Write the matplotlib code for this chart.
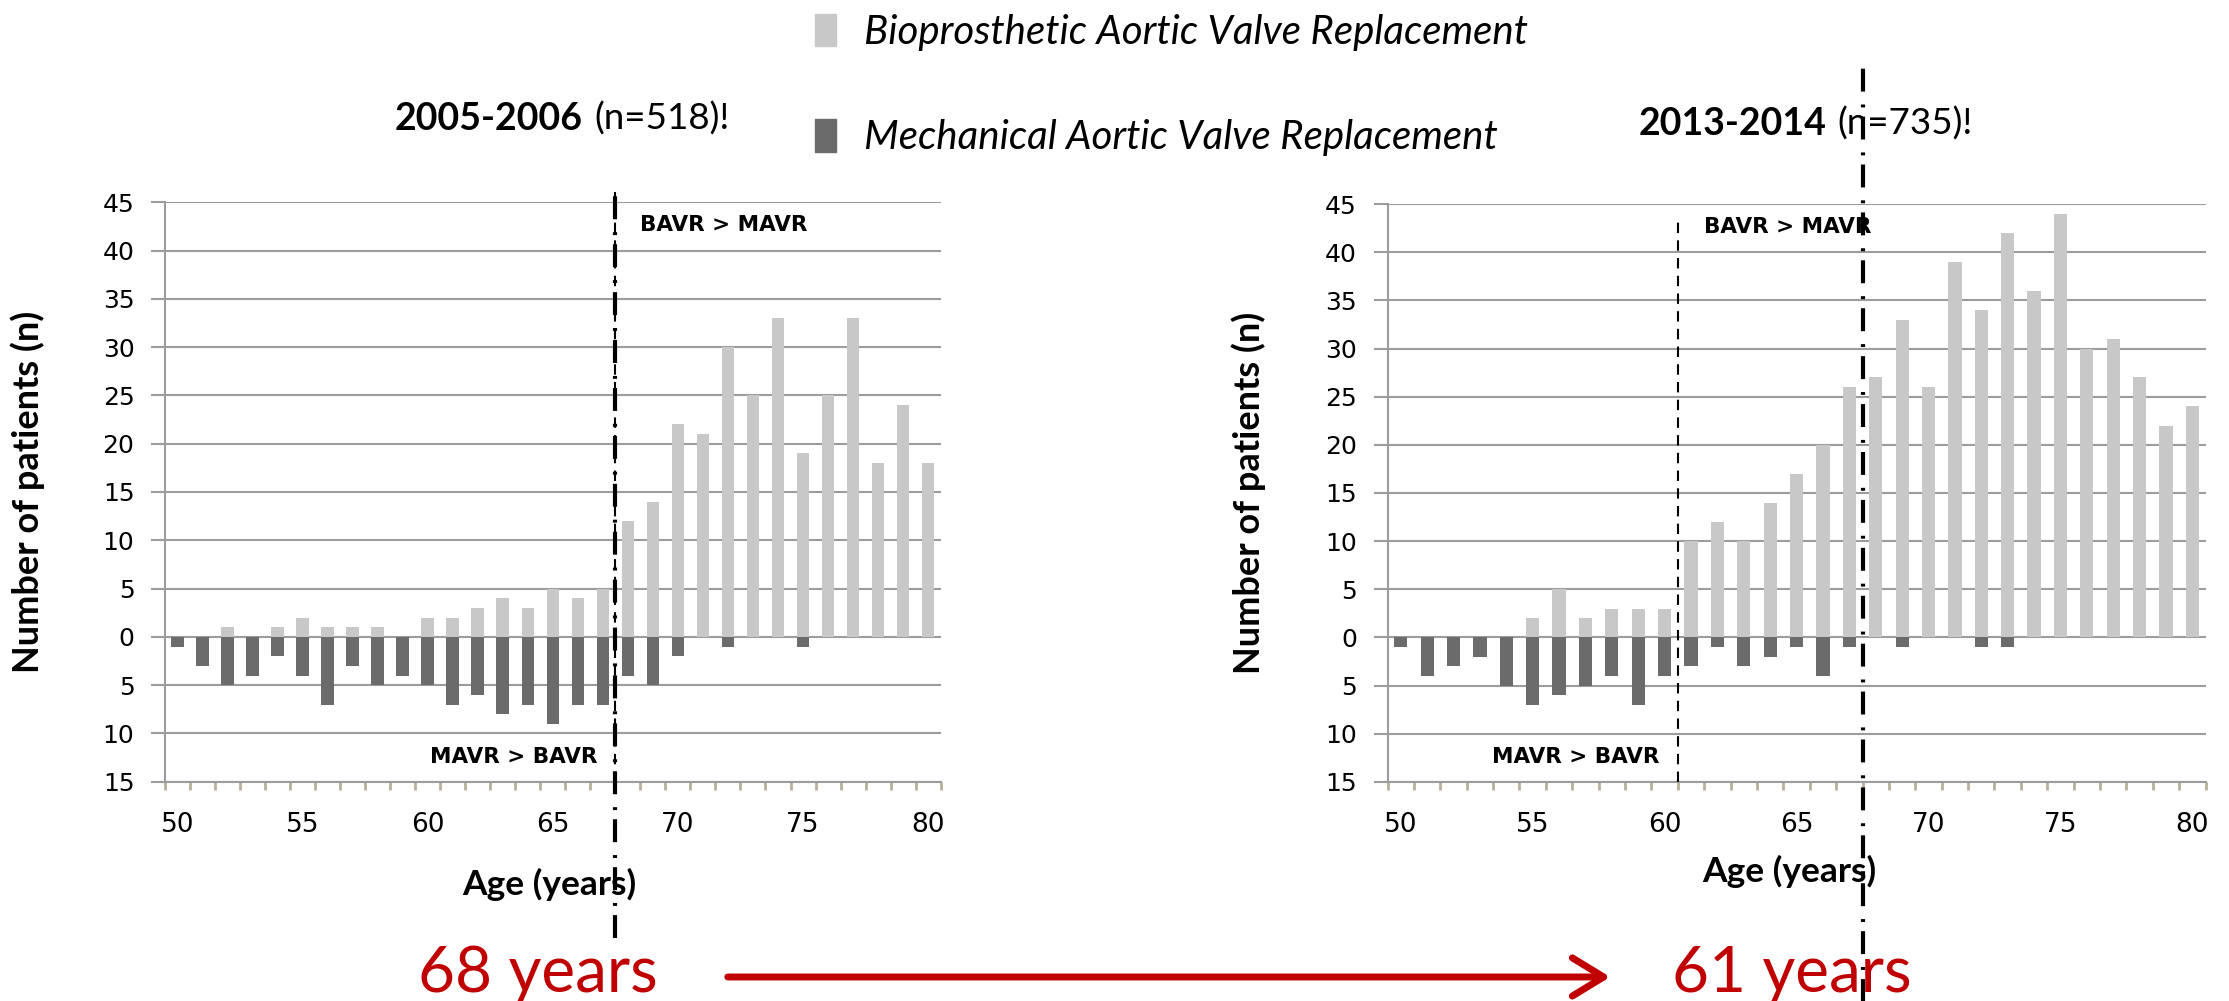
import matplotlib
matplotlib.use('Agg')
import matplotlib.pyplot as plt
import matplotlib.transforms as mtransforms
from matplotlib.patches import Patch, FancyArrowPatch
import numpy as np

# age categories (years)
ages = list(range(50, 81))

# 2005-2006 (n=518)
bio_0506 = [0, 0, 1, 0, 1, 2, 1, 1, 1, 0, 2, 2, 3, 4, 3, 5, 4, 5,
            12, 14, 22, 21, 30, 25, 33, 19, 25, 33, 18, 24, 18]
mech_0506 = [1, 3, 5, 4, 2, 4, 7, 3, 5, 4, 5, 7, 6, 8, 7, 9, 7, 7,
             4, 5, 2, 0, 1, 0, 0, 1, 0, 0, 0, 0, 0]

# 2013-2014 (n=735)
bio_1314 = [0, 0, 0, 0, 0, 2, 5, 2, 3, 3, 3, 10, 12, 10, 14, 17, 20, 26,
            27, 33, 26, 39, 34, 42, 36, 44, 30, 31, 27, 22, 24]
mech_1314 = [1, 4, 3, 2, 5, 7, 6, 5, 4, 7, 4, 3, 1, 3, 2, 1, 4, 1,
             0, 1, 0, 0, 1, 1, 0, 0, 0, 0, 0, 0, 0]

# age from which BAVR > MAVR
switch_0506 = 68
switch_1314 = 61

LIGHT = '#c8c8c8'
DARK = '#6b6b6b'
GRID = '#9c9c9c'
RED = '#c00000'
TXT = 'Lato'
W, H = 2229, 1001

fig = plt.figure(figsize=(22.29, 10.01), dpi=100)
ax1 = fig.add_axes([0.074, 0.219, 0.348, 0.579])
ax2 = fig.add_axes([0.6225, 0.219, 0.367, 0.577])


def draw_panel(ax, bio, mech):
    ax.bar(ages, bio, width=0.5, color=LIGHT, zorder=2)
    ax.bar(ages, [-m for m in mech], width=0.5, color=DARK, zorder=2)
    ax.set_xlim(49.5, 80.5)
    ax.set_ylim(-15, 45)
    yt = list(range(-15, 50, 5))
    ax.set_yticks(yt)
    ax.set_yticklabels([str(abs(v)) for v in yt])
    ax.set_xticks(range(50, 81, 5))
    ax.set_xticks(np.arange(49.5, 81, 1), minor=True)
    ax.tick_params(axis='x', which='major', length=0, pad=22, labelsize=19, labelcolor='black')
    ax.tick_params(axis='x', which='minor', length=6, width=2, color='#b8b09a')
    ax.tick_params(axis='y', length=10, width=1.5, color=GRID, pad=12, labelsize=18, labelcolor='black')
    ax.yaxis.grid(True, color=GRID, lw=1.5)
    ax.set_axisbelow(True)
    for s in ['top', 'right']:
        ax.spines[s].set_visible(False)
    for s in ['left', 'bottom']:
        ax.spines[s].set_color(GRID)
        ax.spines[s].set_linewidth(1.5)
    ax.set_ylabel('Number of patients (n)', family=TXT, fontweight='bold', fontsize=26)
    ax.set_xlabel('Age (years)', family=TXT, fontweight='bold', fontsize=25.5)


def vline(ax, x, y0, y1, style):
    tr = mtransforms.blended_transform_factory(ax.transData, ax.transAxes)
    if style == 'dash':
        ln, = ax.plot([x, x], [y0, y1], transform=tr, color='black', lw=1.5, clip_on=False, zorder=4)
        ln.set_dashes([5, 3.5])
    else:
        ln, = ax.plot([x, x], [y0, y1], transform=tr, color='black', lw=3, clip_on=False, zorder=4)
        ln.set_dashes([5.5, 2.2, 0.7, 3.1])
        ln.set_dash_capstyle('butt')


draw_panel(ax1, bio_0506, mech_0506)
draw_panel(ax2, bio_1314, mech_1314)

ax1.yaxis.set_label_coords(-0.155, 0.5)
ax2.yaxis.set_label_coords(-0.149, 0.5)
ax1.xaxis.set_label_coords(0.495, -0.148)
ax2.xaxis.set_label_coords(0.491, -0.127)

# threshold lines
vline(ax1, switch_0506 - 0.5, 0, 1.017, 'dash')
vline(ax1, switch_0506 - 0.5, -0.27, 1.017, 'dashdot')
vline(ax2, switch_1314 - 0.5, 0, 0.97, 'dash')
vline(ax2, switch_0506 - 0.5, -0.4, 1.235, 'dashdot')

# region labels
for ax, sw in [(ax1, switch_0506), (ax2, switch_1314)]:
    ax.text(sw + 0.5, 42.6, 'BAVR > MAVR', fontsize=15.5, fontweight='bold', va='center', ha='left', zorder=5)
    ax.text(sw - 1.2, -12.4, 'MAVR > BAVR', fontsize=15.5, fontweight='bold', va='center', ha='right', zorder=5)

# panel titles
fig.text(583 / W, 1 - 119 / H, '2005-2006', family=TXT, fontweight='bold', fontsize=27, ha='right', va='center')
fig.text(594 / W, 1 - 119 / H, '(n=518)!', family=TXT, fontsize=26.5, ha='left', va='center')
fig.text(1826 / W, 1 - 124 / H, '2013-2014', family=TXT, fontweight='bold', fontsize=27, ha='right', va='center')
fig.text(1837 / W, 1 - 124 / H, '(n=735)!', family=TXT, fontsize=26.5, ha='left', va='center')

# legend
handles = [Patch(color=LIGHT), Patch(color=DARK)]
labels = ['Bioprosthetic Aortic Valve Replacement', 'Mechanical Aortic Valve Replacement']
fig.legend(handles, labels, loc='upper left', bbox_to_anchor=(815 / W, 1 - 14 / H),
           frameon=False, prop={'family': TXT, 'style': 'italic', 'size': 29},
           borderpad=0, borderaxespad=0,
           handlelength=0.52, handleheight=0.85, handletextpad=0.7, labelspacing=1.7)

# bottom: age shift
fig.text(538 / W, 1 - 992 / H, f'{switch_0506} years', family=TXT, fontsize=46, color=RED, ha='center', va='baseline')
fig.text(1792 / W, 1 - 992 / H, f'{switch_1314} years', family=TXT, fontsize=46, color=RED, ha='center', va='baseline')
arr = FancyArrowPatch((725 / W, 0.024), (1613 / W, 0.024), transform=fig.transFigure,
                      arrowstyle='->,head_length=0.9,head_width=0.55', mutation_scale=25, lw=5, color=RED)
fig.add_artist(arr)

fig.savefig('out.png', dpi=100)
